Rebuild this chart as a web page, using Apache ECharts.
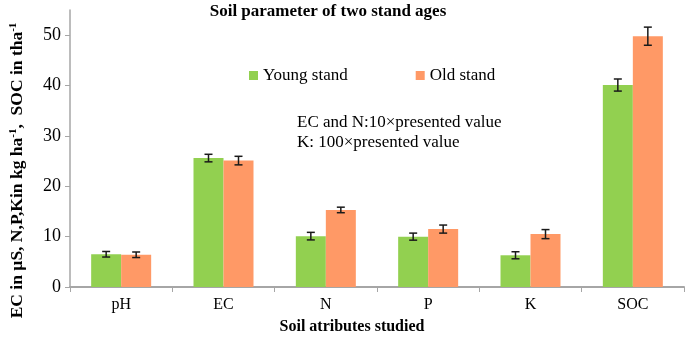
<!DOCTYPE html>
<html>
<head>
<meta charset="utf-8">
<script src="https://cdn.jsdelivr.net/npm/echarts@6/dist/echarts.min.js"></script>
<style>
  html, body { margin: 0; padding: 0; background: #fff; }
  #main { width: 685px; height: 337px; }
</style>
</head>
<body>
<div id="main"></div>
<script>
// data
var categories = ['pH', 'EC', 'N', 'P', 'K', 'SOC'];
var youngValues = [6.5, 25.6, 10.1, 10.0, 6.3, 40.1];
var oldValues = [6.4, 25.1, 15.3, 11.5, 10.5, 49.8];
var youngErr = [0.55, 0.75, 0.75, 0.7, 0.7, 1.2];
var oldErr = [0.55, 0.85, 0.55, 0.8, 0.9, 1.8];
var yTicks = [0, 10, 20, 30, 40, 50];

var serif = '"Liberation Serif", "Times New Roman", serif';
var barW = 30;

// error bar rows: [category index, low, high]
function errRows(vals, errs) {
    return vals.map(function (v, i) {
        return [i, v - errs[i], v + errs[i]];
    });
}

function errorBarItem(offset) {
    return function (params, api) {
        var x = api.coord([api.value(0), 0])[0] + offset;
        var lo = api.coord([api.value(0), api.value(1)])[1];
        var hi = api.coord([api.value(0), api.value(2)])[1];
        var cap = 4;
        var st = { stroke: '#1a1a1a', lineWidth: 1.5 };
        return {
            type: 'group',
            children: [
                { type: 'line', shape: { x1: x, y1: hi, x2: x, y2: lo }, style: st },
                { type: 'line', shape: { x1: x - cap, y1: hi, x2: x + cap, y2: hi }, style: st },
                { type: 'line', shape: { x1: x - cap, y1: lo, x2: x + cap, y2: lo }, style: st }
            ]
        };
    };
}

var chart = echarts.init(document.getElementById('main'));
var option = {
    backgroundColor: '#fff',
    animation: false,
    title: [{
        text: 'Soil parameter of two stand ages',
        left: 323,
        top: -2,
        textAlign: 'center',
        textStyle: { fontFamily: serif, fontWeight: 'bold', fontSize: 17, color: '#000' }
    }, {
        text: 'Soil atributes studied',
        left: 347,
        top: 314,
        textAlign: 'center',
        textStyle: { fontFamily: serif, fontWeight: 'bold', fontSize: 16, color: '#000' }
    }, {
        text: 'EC and N:10×presented value\nK: 100×presented value',
        left: 292,
        top: 108,
        textStyle: { fontFamily: serif, fontWeight: 'normal', fontSize: 17, color: '#000', lineHeight: 20 }
    }],
    legend: {
        data: ['Young stand', 'Old stand'],
        left: 244,
        top: 62,
        itemWidth: 9,
        itemHeight: 9,
        itemGap: 68,
        icon: 'rect',
        textStyle: { fontFamily: serif, fontSize: 17, color: '#000' }
    },
    grid: { left: 58, right: 1, top: 10, bottom: 50 },
    xAxis: {
        type: 'category',
        data: categories,
        axisLine: { lineStyle: { color: '#a6a6a6', width: 2 } },
        axisTick: { show: true, length: 5, lineStyle: { color: '#a6a6a6', width: 1 } },
        axisLabel: { fontFamily: serif, fontSize: 16, color: '#000', margin: 10 }
    },
    yAxis: {
        type: 'value',
        min: 0,
        max: 55,
        interval: 10,
        name: 'EC in µS, N,P,Kin kg ha{sup|-1},  SOC in tha{sup|-1}',
        nameLocation: 'middle',
        nameRotate: 90,
        nameGap: 44,
        nameTextStyle: {
            fontFamily: serif, fontWeight: 'bold', fontSize: 17.5, color: '#000',
            padding: [0, 44, 0, 0],
            rich: {
                sup: { fontFamily: serif, fontWeight: 'bold', fontSize: 11, verticalAlign: 'top', padding: [0, 0, 7, 0] }
            }
        },
        axisLine: { show: true, lineStyle: { color: '#a6a6a6', width: 1.5 } },
        axisTick: { show: true, length: 5, customValues: yTicks, lineStyle: { color: '#a6a6a6' } },
        axisLabel: { fontFamily: serif, fontSize: 18, color: '#000', margin: 9, customValues: yTicks },
        splitLine: { show: false }
    },
    series: [{
        name: 'Young stand',
        type: 'bar',
        barWidth: barW,
        barGap: '0%',
        itemStyle: { color: '#92d050' },
        data: youngValues
    }, {
        name: 'Old stand',
        type: 'bar',
        barWidth: barW,
        barGap: '0%',
        itemStyle: { color: '#ff9966' },
        data: oldValues
    }, {
        name: 'youngErr',
        type: 'custom',
        renderItem: errorBarItem(-barW / 2),
        data: errRows(youngValues, youngErr),
        z: 10
    }, {
        name: 'oldErr',
        type: 'custom',
        renderItem: errorBarItem(barW / 2),
        data: errRows(oldValues, oldErr),
        z: 10
    }]
};
chart.setOption(option);
</script>
</body>
</html>
